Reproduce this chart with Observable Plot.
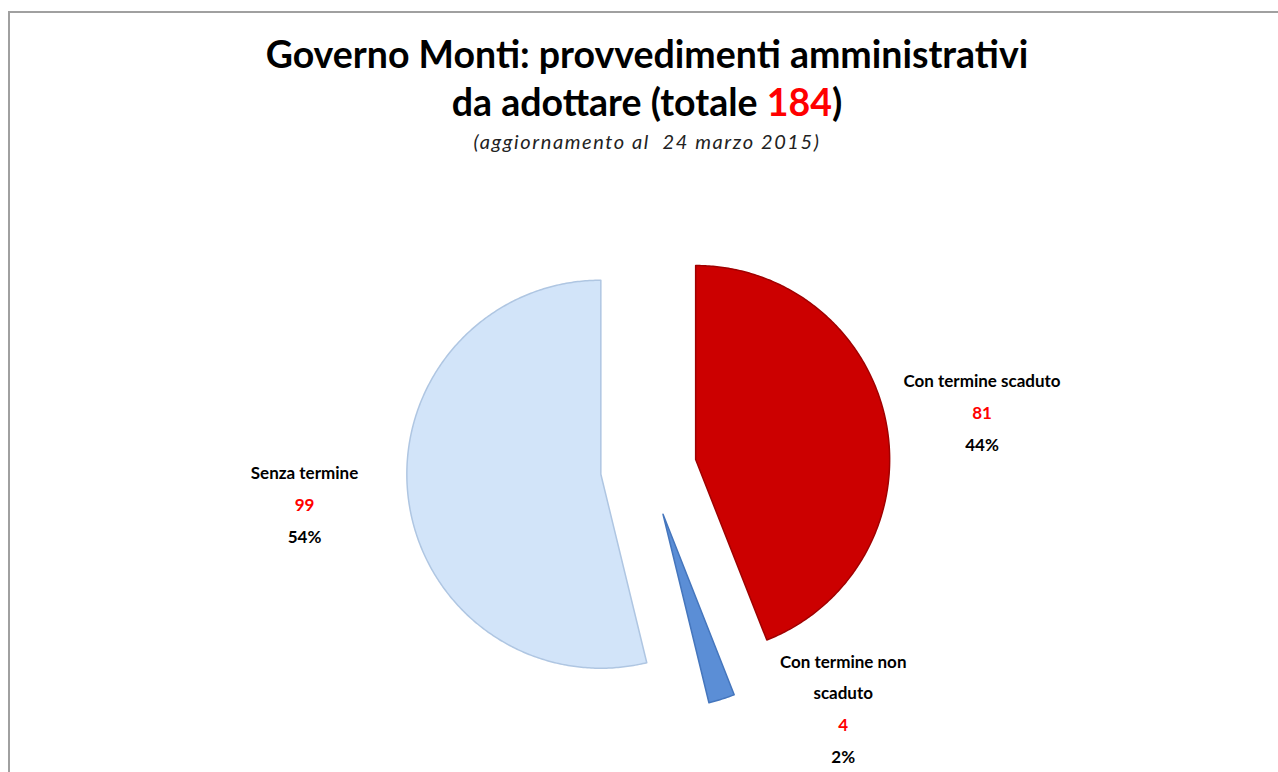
<!DOCTYPE html>
<html><head><meta charset="utf-8">
<script src="https://cdn.jsdelivr.net/npm/d3@7"></script>
<script src="https://cdn.jsdelivr.net/npm/@observablehq/plot@0.6"></script>
<style>
body{margin:0;background:#fff;width:1278px;height:772px;overflow:hidden;position:relative;font-family:Lato,"Open Sans",sans-serif}
#frame{position:absolute;left:8px;top:11px;width:1300px;height:800px;border-top:2px solid #a0a0a0;border-left:2px solid #a0a0a0}
.t{position:absolute;left:8px;width:1278px;text-align:center;white-space:pre;color:#000;line-height:1}
#chart{position:absolute;left:0;top:170px}
</style></head><body>
<div id="frame"></div>
<div class="t" id="t1" style="top:35px;font-size:37.5px;font-weight:bold">Governo Monti: provvedimenti amministrativi</div>
<div class="t" id="t2" style="top:83px;font-size:37.5px;font-weight:bold"></div>
<div class="t" id="t3" style="top:131px;font-size:20px;font-style:italic;letter-spacing:1.6px;color:#222"></div>
<div id="chart"></div>
<script>
// ---- data ----
const categories = ["Con termine scaduto", "Con termine non scaduto", "Senza termine"];
const values = [81, 4, 99];
const nameLines = [["Con termine scaduto"], ["Con termine non", "scaduto"], ["Senza termine"]];
const updateDate = "24 marzo 2015";

// ---- styles / layout ----
const sliceFill = ["#CC0000", "#5B8ED6", "#D2E4F9"];
const sliceStroke = ["#A00000", "#4576BD", "#AFC6E2"];
const W = 1278, H = 602;
const cx = 648, cy = 298, R = 194, explode = 48;
const labelLayout = [{dist: 338, turn: 1.4}, {dist: 310, turn: -21.3}, {dist: 346, turn: 0.7}];
const lineH = 31.7;

const total = d3.sum(values);
document.getElementById("t2").innerHTML = 'da adottare (totale <span style="color:#FF0000">' + total + '</span>)';
document.getElementById("t3").textContent = "(aggiornamento al  " + updateDate + ")";

const arcs = d3.pie().sort(null).value(d => d)(values);
const pt = (x0, y0, r, a) => [x0 + r * Math.sin(a), y0 - r * Math.cos(a)];

const marks = [];
const textRows = [];
arcs.forEach((a, i) => {
  const mid = (a.startAngle + a.endAngle) / 2;
  const [ox, oy] = pt(cx, cy, explode, mid);
  const n = Math.max(2, Math.ceil((a.endAngle - a.startAngle) / 0.01));
  const poly = [{x: ox, y: oy}];
  for (let k = 0; k <= n; k++) {
    const ang = a.startAngle + (a.endAngle - a.startAngle) * k / n;
    const [px, py] = pt(ox, oy, R, ang);
    poly.push({x: px, y: py});
  }
  poly.push({x: ox, y: oy});
  marks.push(Plot.line(poly, {x: "x", y: "y", fill: sliceFill[i], stroke: sliceStroke[i], strokeWidth: 1.5, strokeLinejoin: "round", curve: "linear"}));

  const L = labelLayout[i];
  const la = mid + L.turn * Math.PI / 180;
  const [lx, ly] = pt(cx, cy, L.dist, la);
  const lines = [...nameLines[i].map(s => ({s, c: "#000"})),
                 {s: String(values[i]), c: "#FF0000"},
                 {s: Math.round(values[i] / total * 100) + "%", c: "#000"}];
  lines.forEach((l, k) => {
    textRows.push({x: lx, y: ly + (k - (lines.length - 1) / 2) * lineH, text: l.s, color: l.c});
  });
});

marks.push(Plot.text(textRows, {x: "x", y: "y", text: "text", fill: "color", fontSize: 17, fontWeight: "bold", fontFamily: "Lato, sans-serif"}));

const chart = Plot.plot({
  width: W, height: H, margin: 0,
  x: {domain: [0, W], range: [0, W], axis: null},
  y: {domain: [0, H], range: [0, H], axis: null},
  style: {background: "transparent", overflow: "visible"},
  marks
});
document.getElementById("chart").appendChild(chart);
</script>
</body></html>
